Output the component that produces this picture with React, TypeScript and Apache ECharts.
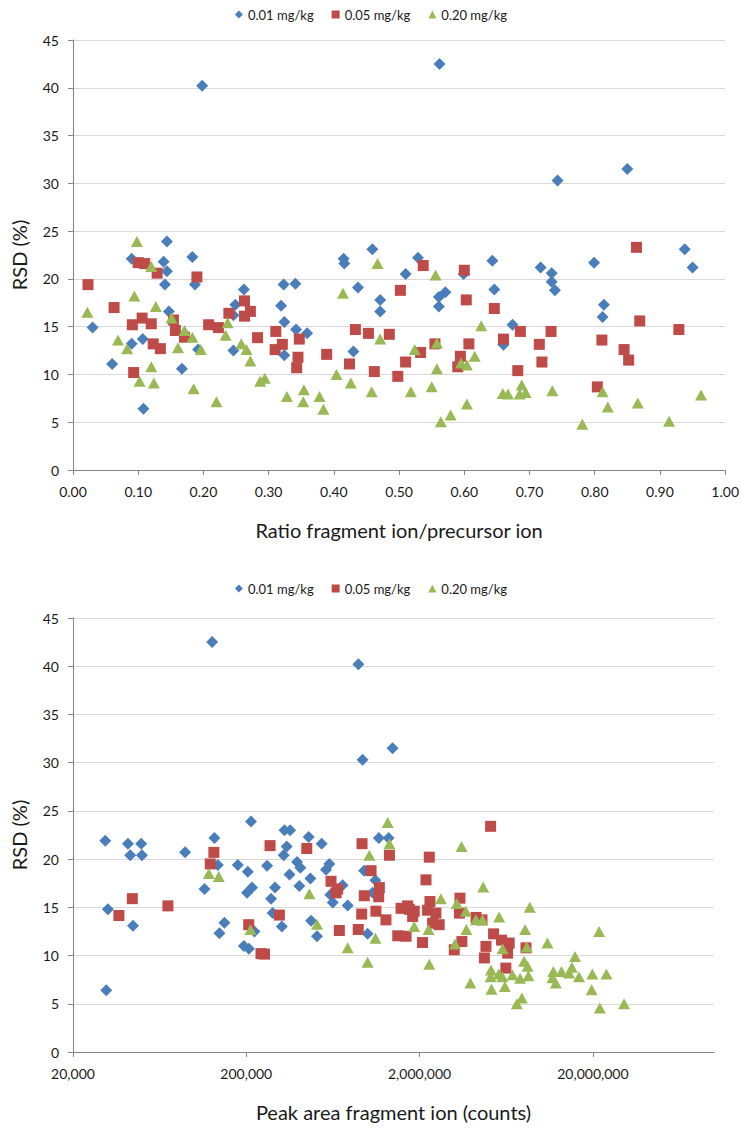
import React, { useEffect, useRef } from "react";
import * as echarts from "echarts";

const seriesNames = ["0.01 mg/kg", "0.05 mg/kg", "0.20 mg/kg"];
const seriesColors = ["#4A7EBB", "#BE4B48", "#98B954"];
const seriesSymbols = ["diamond", "rect", "triangle"];
const seriesSizes = [12, 11, [12, 11]];

const ratioTicks = [0, 0.1, 0.2, 0.3, 0.4, 0.5, 0.6, 0.7, 0.8, 0.9, 1.0];
const peakAreaTicks = [20000, 200000, 2000000, 20000000];
const rsdRange = [0, 45];

// Chart 1: ratio fragment ion / precursor ion vs RSD (%)
const ratioLow = [
  [0.03, 14.9], [0.06, 11.1], [0.09, 22.1], [0.09, 13.2], [0.107, 13.7], [0.108, 6.4],
  [0.139, 21.8], [0.144, 23.9], [0.144, 20.8], [0.141, 19.4], [0.147, 16.6], [0.167, 10.6],
  [0.183, 22.3], [0.187, 19.4], [0.192, 12.6], [0.198, 40.2], [0.246, 12.5], [0.249, 17.3],
  [0.246, 16.2], [0.262, 18.9], [0.319, 17.2], [0.323, 19.4], [0.324, 15.5], [0.324, 12.0],
  [0.341, 19.5], [0.342, 14.7], [0.359, 14.3], [0.415, 22.1], [0.416, 21.6], [0.43, 12.4],
  [0.437, 19.1], [0.459, 23.1], [0.471, 17.8], [0.471, 16.6], [0.51, 20.5], [0.529, 22.2],
  [0.561, 18.1], [0.571, 18.6], [0.561, 17.1], [0.562, 42.5], [0.599, 20.5], [0.643, 21.9],
  [0.646, 18.9], [0.66, 13.1], [0.674, 15.2], [0.717, 21.2], [0.734, 20.6], [0.734, 19.7],
  [0.739, 18.8], [0.743, 30.3], [0.799, 21.7], [0.814, 17.3], [0.812, 16.0], [0.85, 31.5],
  [0.938, 23.1], [0.95, 21.2],
];
const ratioMid = [
  [0.023, 19.4], [0.063, 17.0], [0.091, 15.2], [0.093, 10.2], [0.1, 21.7], [0.11, 21.6],
  [0.106, 15.9], [0.12, 15.3], [0.123, 13.2], [0.129, 20.6], [0.134, 12.7], [0.154, 15.7],
  [0.157, 14.6], [0.171, 13.9], [0.19, 20.2], [0.208, 15.2], [0.223, 14.9], [0.239, 16.4],
  [0.263, 17.7], [0.263, 16.1], [0.272, 16.6], [0.283, 13.85], [0.311, 14.5], [0.31, 12.6],
  [0.321, 13.15], [0.347, 13.7], [0.345, 11.8], [0.343, 10.7], [0.389, 12.1], [0.424, 11.1],
  [0.433, 14.7], [0.453, 14.3], [0.462, 10.3], [0.485, 14.2], [0.498, 9.8], [0.502, 18.8],
  [0.51, 11.3], [0.533, 12.3], [0.537, 21.4], [0.555, 13.2], [0.59, 10.8], [0.594, 11.9],
  [0.6, 20.9], [0.603, 17.8], [0.607, 13.2], [0.646, 16.9], [0.66, 13.7], [0.682, 10.4],
  [0.686, 14.5], [0.715, 13.15], [0.719, 11.3], [0.733, 14.5], [0.804, 8.7], [0.811, 13.6],
  [0.845, 12.6], [0.852, 11.5], [0.864, 23.3], [0.869, 15.6], [0.929, 14.7],
];
const ratioHigh = [
  [0.022, 16.5], [0.069, 13.6], [0.083, 12.7], [0.094, 18.2], [0.098, 23.9], [0.102, 9.3],
  [0.12, 21.3], [0.12, 10.8], [0.124, 9.1], [0.127, 17.1], [0.151, 15.9], [0.161, 12.8],
  [0.171, 14.6], [0.183, 13.9], [0.185, 8.5], [0.196, 12.6], [0.22, 7.15], [0.234, 14.1],
  [0.237, 15.4], [0.258, 13.2], [0.266, 12.6], [0.272, 11.4], [0.287, 9.3], [0.294, 9.6],
  [0.328, 7.7], [0.354, 8.4], [0.353, 7.15], [0.378, 7.7], [0.384, 6.35], [0.404, 10.0],
  [0.414, 18.5], [0.426, 9.1], [0.458, 8.2], [0.467, 21.6], [0.471, 13.7], [0.518, 8.2],
  [0.524, 12.6], [0.55, 8.7], [0.556, 20.4], [0.558, 13.3], [0.558, 10.6], [0.564, 5.06],
  [0.579, 5.75], [0.595, 11.2], [0.604, 11.0], [0.604, 6.9], [0.616, 11.9], [0.626, 15.1],
  [0.659, 8.0], [0.667, 7.95], [0.685, 7.95], [0.688, 8.9], [0.694, 8.1], [0.735, 8.3],
  [0.781, 4.8], [0.812, 8.2], [0.82, 6.6], [0.866, 7.0], [0.914, 5.1], [0.963, 7.85],
];

// Chart 2: peak area fragment ion (counts) vs RSD (%)
const areaLow = [
  [30700, 21.9], [31800, 14.8], [31100, 6.4], [41500, 21.6], [42800, 20.4], [44400, 13.1],
  [49500, 21.6], [50000, 20.4], [88700, 20.7], [114800, 16.9], [127000, 42.5], [131000, 22.2],
  [137000, 19.4], [140000, 12.3], [149600, 13.4], [178700, 19.4], [204000, 18.7], [202000, 16.5],
  [216000, 17.05], [193700, 11.0], [207000, 10.7], [213000, 23.9], [222800, 12.5], [263600, 19.3],
  [293000, 17.05], [278000, 15.9], [284000, 14.4], [320600, 13.0], [328800, 20.4], [332000, 23.0],
  [342000, 21.3], [358000, 23.0], [355000, 18.4], [392600, 19.7], [410000, 19.1], [404600, 17.2],
  [458000, 22.3], [469000, 18.0], [473000, 13.6], [511800, 12.0], [544600, 21.6], [576800, 18.9],
  [602600, 19.5], [611000, 16.3], [631000, 15.5], [719400, 17.3], [769200, 15.2], [887200, 40.2],
  [937600, 30.3], [1002400, 12.25], [957200, 18.8], [1071600, 16.5], [1111800, 17.8], [1164000, 22.2],
  [1324400, 22.2], [1396400, 31.5],
];
const areaMid = [
  [36800, 14.15], [44000, 15.9], [70600, 15.15], [123900, 19.5], [130000, 20.7], [206600, 13.2],
  [243200, 10.2], [254700, 10.15], [274200, 21.4], [310500, 14.2], [446800, 21.1], [616600, 17.7],
  [659200, 16.5], [673000, 16.9], [688600, 12.6], [885200, 12.7], [931200, 21.6], [926800, 14.3],
  [959400, 16.2], [1049600, 18.8], [1119600, 14.6], [1172200, 17.05], [1161600, 16.1], [1279400, 13.7],
  [1339800, 20.4], [1563200, 14.9], [1706200, 15.15], [1862200, 14.6], [1496400, 12.05], [1671200, 12.0],
  [1824000, 14.05], [1742000, 14.8], [2080000, 11.35], [2178000, 17.85], [2275000, 20.2], [2296000, 15.6],
  [2224000, 14.7], [2484000, 14.4], [2377000, 13.35], [2594000, 13.2], [3420000, 15.95], [3396000, 14.4],
  [3170000, 10.6], [3508000, 11.45], [4236000, 13.95], [4582000, 13.7], [4732000, 9.75], [4830000, 10.95],
  [5346000, 12.25], [5140000, 23.4], [5944000, 11.6], [6578000, 11.3], [6442000, 10.25], [6296000, 8.7],
  [8222000, 10.8],
];
const areaHigh = [
  [121600, 18.5], [138700, 18.2], [211400, 12.7], [462400, 16.4], [511800, 13.25], [769200, 10.8],
  [1002400, 9.3], [1025800, 20.4], [1111800, 11.8], [1309200, 23.8], [1339800, 21.6], [1862200, 13.0],
  [2254000, 12.7], [2275000, 9.1], [2654000, 15.9], [3206000, 11.2], [3282000, 15.4], [3492000, 21.3],
  [3698000, 14.6], [3724000, 12.7], [3926000, 7.15], [4226000, 13.7], [4614000, 13.7], [4656000, 17.1],
  [5164000, 8.5], [5140000, 7.8], [5200000, 6.5], [5728000, 8.1], [5754000, 14.0], [6012000, 7.8],
  [6026000, 10.7], [6210000, 6.8], [6872000, 8.0], [7278000, 5.0], [7604000, 7.65], [7780000, 5.6],
  [8018000, 9.4], [8128000, 12.7], [8396000, 8.9], [8300000, 10.9], [8492000, 7.9], [8650000, 15.0],
  [10940000, 11.3], [11696000, 7.7], [11832000, 8.35], [12218000, 7.15], [13184000, 8.35], [14588000, 8.2],
  [15136000, 8.8], [15778000, 9.9], [16636000, 7.8], [19680000, 6.45], [19862000, 8.1], [21720000, 12.5],
  [21930000, 4.55], [23934000, 8.1], [30272000, 5.0],
];

const FONT = "Lato, 'Open Sans', sans-serif";
const TEXT = "#1a1a1a";
const AXIS_GRAY = "#868686";
const GRID_GRAY = "#d9d9d9";

function yAxisFor(gridIndex: number) {
  return {
    type: "value",
    gridIndex,
    min: rsdRange[0],
    max: rsdRange[1],
    interval: 5,
    name: "RSD (%)",
    nameLocation: "middle",
    nameGap: 44,
    nameTextStyle: { fontFamily: FONT, fontSize: 20, color: TEXT },
    axisLine: { show: true, lineStyle: { color: AXIS_GRAY, width: 1 } },
    axisTick: { show: true, length: 5, lineStyle: { color: AXIS_GRAY } },
    axisLabel: { fontFamily: FONT, fontSize: 14, color: TEXT, margin: 14 },
    splitLine: { show: true, lineStyle: { color: GRID_GRAY, width: 1 } },
  };
}

export default function App() {
  const ref = useRef<HTMLDivElement>(null);

  useEffect(() => {
    if (!ref.current) return;
    const chart = echarts.init(ref.current, undefined, { renderer: "svg" });

    const makeSeries = (data: number[][], i: number, axisIndex: number) => ({
      type: "scatter",
      name: seriesNames[i],
      xAxisIndex: axisIndex,
      yAxisIndex: axisIndex,
      data,
      symbol: seriesSymbols[i],
      symbolSize: seriesSizes[i],
      itemStyle: { color: seriesColors[i], opacity: 1 },
      emphasis: { disabled: true },
    });

    const legendBase = {
      data: seriesNames,
      left: "center",
      itemWidth: 8,
      itemHeight: 8,
      itemGap: 18,
      textStyle: { fontFamily: FONT, fontSize: 13, color: TEXT },
      selectedMode: false,
    };

    chart.setOption({
      animation: false,
      backgroundColor: "#ffffff",
      color: seriesColors,
      legend: [
        { ...legendBase, top: 3 },
        { ...legendBase, top: 577 },
      ],
      grid: [
        { left: 73, top: 40, width: 655, height: 430 },
        { left: 73, top: 618, width: 641, height: 434 },
      ],
      xAxis: [
        {
          type: "value",
          gridIndex: 0,
          min: ratioTicks[0],
          max: ratioTicks[ratioTicks.length - 1],
          interval: 0.1,
          name: "Ratio fragment ion/precursor ion",
          nameLocation: "middle",
          nameGap: 50,
          nameTextStyle: { fontFamily: FONT, fontSize: 20, color: TEXT },
          axisLine: { show: true, onZero: false, lineStyle: { color: AXIS_GRAY } },
          axisTick: { show: true, length: 5, lineStyle: { color: AXIS_GRAY } },
          axisLabel: {
            fontFamily: FONT,
            fontSize: 14,
            color: TEXT,
            margin: 14,
            formatter: (v: number) => v.toFixed(2),
          },
          splitLine: { show: false },
        },
        {
          type: "log",
          logBase: 10,
          gridIndex: 1,
          min: 20000,
          max: 100000000,
          name: "Peak area fragment ion (counts)",
          nameLocation: "middle",
          nameGap: 50,
          nameTextStyle: { fontFamily: FONT, fontSize: 20, color: TEXT },
          axisLine: { show: true, onZero: false, lineStyle: { color: AXIS_GRAY } },
          axisTick: {
            show: true,
            length: 5,
            customValues: peakAreaTicks,
            lineStyle: { color: AXIS_GRAY },
          },
          axisLabel: {
            fontFamily: FONT,
            fontSize: 14,
            color: TEXT,
            margin: 14,
            customValues: peakAreaTicks,
            formatter: (v: number) => Math.round(v).toLocaleString("en-US"),
          },
          splitLine: { show: false },
          minorSplitLine: { show: false },
        },
      ],
      yAxis: [yAxisFor(0), yAxisFor(1)],
      series: [
        makeSeries(ratioLow, 0, 0),
        makeSeries(ratioMid, 1, 0),
        makeSeries(ratioHigh, 2, 0),
        makeSeries(areaLow, 0, 1),
        makeSeries(areaMid, 1, 1),
        makeSeries(areaHigh, 2, 1),
      ],
    });

    return () => chart.dispose();
  }, []);

  return (
    <div
      ref={ref}
      style={{ position: "absolute", left: 0, top: 0, width: 742, height: 1128, background: "#fff" }}
    />
  );
}
